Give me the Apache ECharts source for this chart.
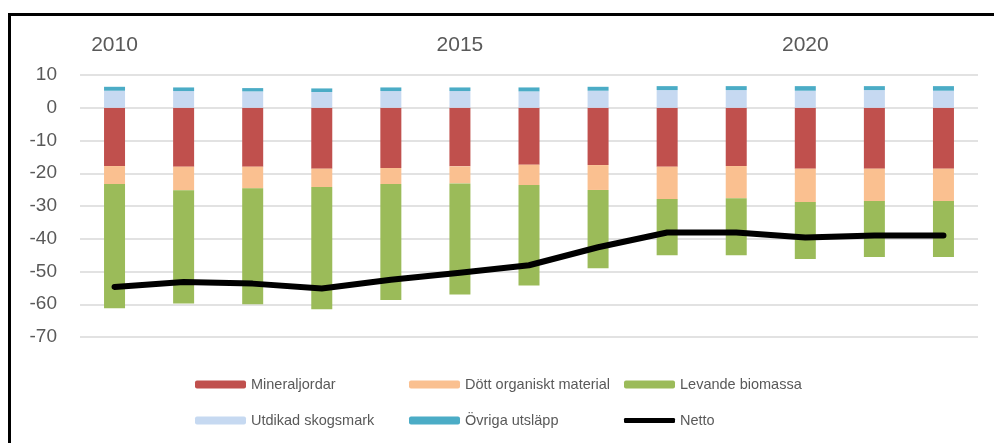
<!DOCTYPE html>
<html>
<head>
<meta charset="utf-8">
<script src="https://cdn.jsdelivr.net/npm/echarts@6/dist/echarts.min.js"></script>
<style>
html,body{margin:0;padding:0;background:#fff;}
#chart{width:994px;height:443px;}
</style>
</head>
<body>
<div id="chart"></div>
<script>
const years = ['2010','2011','2012','2013','2014','2015','2016','2017','2018','2019','2020','2021','2022'];
const mineraljordar = [-17.8,-18.0,-18.0,-18.6,-18.4,-17.9,-17.4,-17.5,-18.0,-17.8,-18.6,-18.6,-18.6];
const dottOrganiskt = [-5.5,-7.2,-6.6,-5.6,-4.9,-5.2,-6.2,-7.6,-9.9,-9.8,-10.2,-9.9,-9.9];
const levandeBiomassa = [-37.9,-34.6,-35.4,-37.3,-35.4,-33.9,-30.7,-23.9,-17.1,-17.4,-17.4,-17.1,-17.1];
const utdikadSkogsmark = [5.2,5.1,5.0,4.8,5.1,5.1,5.0,5.2,5.4,5.4,5.2,5.4,5.2];
const ovrigaUtslapp = [1.2,1.1,1.0,1.1,1.1,1.1,1.2,1.2,1.2,1.2,1.4,1.2,1.4];
const netto = [-54.7,-53.2,-53.7,-55.2,-52.5,-50.4,-48.1,-42.6,-38.1,-38.1,-39.6,-39.0,-39.0];
const yTicks = {min:-70, max:10, interval:10};

const font = 'Liberation Sans';
const grey = '#595959';
function bar(name, data, color){
  return {name, type:'bar', stack:'s', data, barWidth:21,
    itemStyle:{color}, emphasis:{disabled:true}};
}
function leg(name, left, top, extra){
  return Object.assign({
    data:[name], left, top, itemWidth:51, itemHeight:8, itemGap:0, padding:0,
    textStyle:{fontFamily:font, fontSize:14.5, color:grey}, selectedMode:false
  }, extra||{});
}
const chart = echarts.init(document.getElementById('chart'), null, {renderer:'canvas'});
chart.setOption({
  animation:false,
  backgroundColor:'#fff',
  grid:{left:80, right:16, top:75, bottom:106},
  xAxis:{type:'category', data:years, position:'top',
    axisLine:{show:false}, axisTick:{show:false},
    axisLabel:{interval:4, margin:19, fontFamily:font, fontSize:21, color:grey}},
  yAxis:{type:'value', min:yTicks.min, max:yTicks.max, interval:yTicks.interval,
    axisLine:{show:false}, axisTick:{show:false},
    splitLine:{lineStyle:{color:'#d9d9d9', width:1.5}},
    axisLabel:{margin:23, fontFamily:font, fontSize:19, color:grey}},
  legend:[
    leg('Mineraljordar',195,377),
    leg('Dött organiskt material',409,377),
    leg('Levande biomassa',624,377),
    leg('Utdikad skogsmark',195,413),
    leg('Övriga utsläpp',409,413),
    leg('Netto',624,413,{itemHeight:5, icon:'roundRect', itemStyle:{color:'#000'}})
  ],
  graphic:[
    {type:'line', shape:{x1:8,y1:14.5,x2:994,y2:14.5}, style:{stroke:'#000', lineWidth:3}},
    {type:'line', shape:{x1:9.5,y1:13,x2:9.5,y2:443}, style:{stroke:'#000', lineWidth:3}}
  ],
  series:[
    bar('Mineraljordar', mineraljordar, '#C0504D'),
    bar('Dött organiskt material', dottOrganiskt, '#FAC090'),
    bar('Levande biomassa', levandeBiomassa, '#9BBB59'),
    bar('Utdikad skogsmark', utdikadSkogsmark, '#C6D9F1'),
    bar('Övriga utsläpp', ovrigaUtslapp, '#4BACC6'),
    {name:'Netto', type:'line', data:netto, symbol:'none', showSymbol:false,
      lineStyle:{color:'#000', width:6, cap:'round', join:'round'}, itemStyle:{color:'#000'}, z:10}
  ]
});
</script>
</body>
</html>
